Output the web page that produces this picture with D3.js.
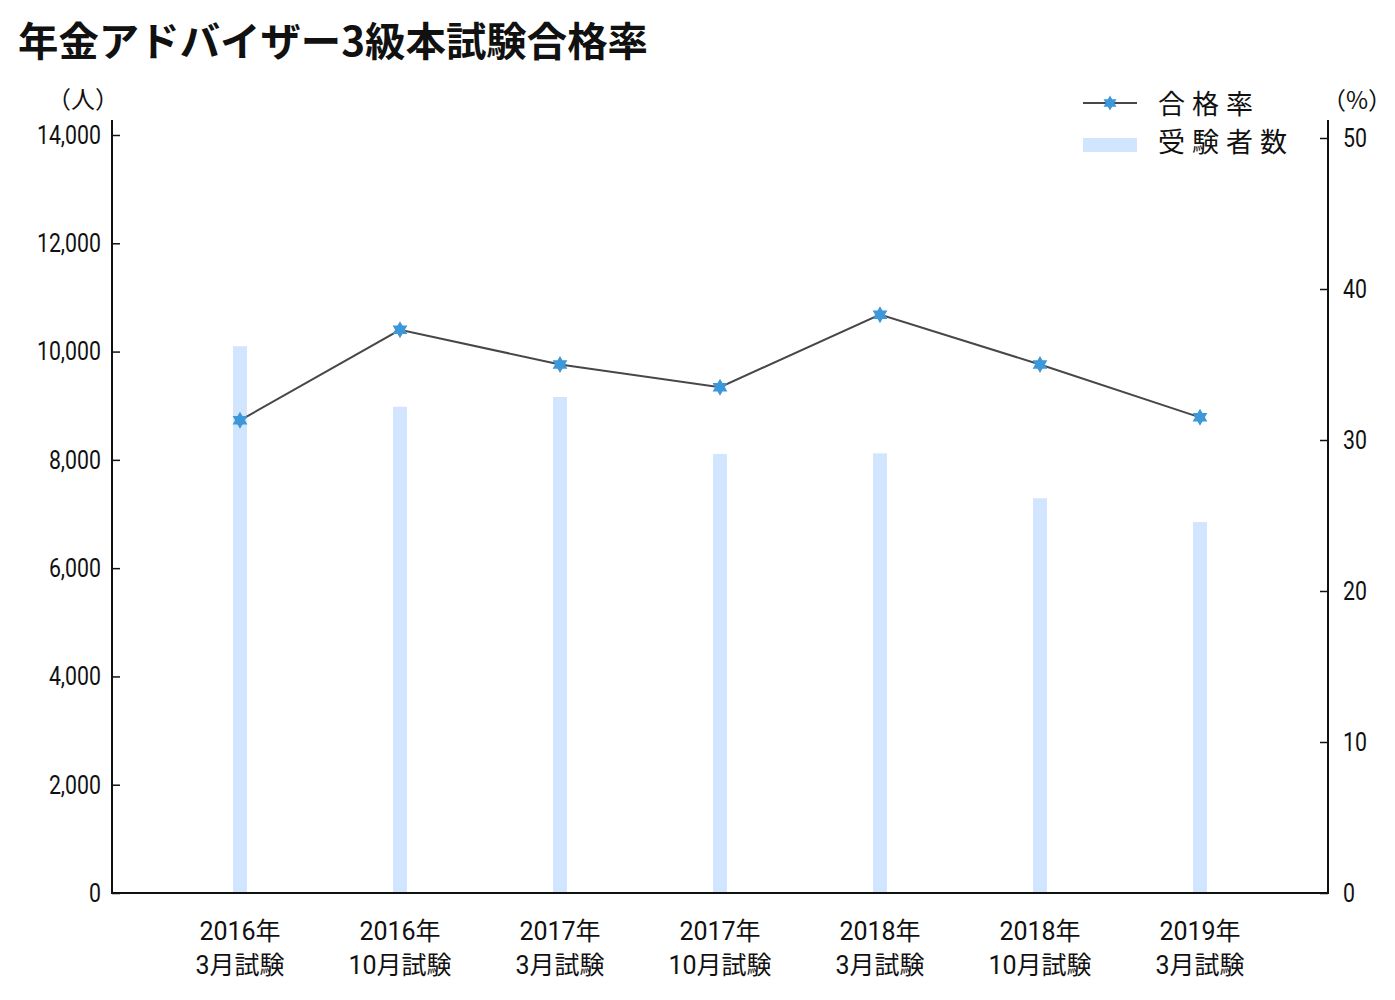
<!DOCTYPE html>
<html><head><meta charset="utf-8">
<script src="https://cdn.jsdelivr.net/npm/d3@7"></script>
<style>
body{margin:0;background:#fff;}
text{font-family:Roboto,"Noto Sans CJK JP",sans-serif;fill:#111;}
</style></head>
<body><svg id="c" width="1395" height="1000"></svg>
<script>
const categories = ["2016年\n3月試験","2016年\n10月試験","2017年\n3月試験","2017年\n10月試験","2018年\n3月試験","2018年\n10月試験","2019年\n3月試験"];
const examinees = [10100, 8980, 9160, 8110, 8120, 7290, 6850];
const passRate = [31.3, 37.3, 35.0, 33.5, 38.3, 35.0, 31.5];
const leftTicks = [0,2000,4000,6000,8000,10000,12000,14000];
const rightTicks = [0,10,20,30,40,50];

const svg = d3.select("#c");
const L = 112, R = 1328, B = 893;
const SX = 0.82;
const x = d3.scalePoint().domain(categories).range([L, R]).padding(0.8);
const yL = d3.scaleLinear().domain([0, 14000]).range([B, 135]);
const yR = d3.scaleLinear().domain([0, 50]).range([B, 138]);

svg.append("text").attr("x", 18).attr("y", 56).attr("font-size", 40).attr("font-weight", 700)
  .attr("textLength", 630).attr("lengthAdjust", "spacingAndGlyphs")
  .style("font-family", "'Noto Sans CJK JP',sans-serif").text("年金アドバイザー3級本試験合格率");

// bars
svg.append("g").selectAll("rect").data(examinees).join("rect")
  .attr("x", (d,i) => x(categories[i]) - 7).attr("width", 14)
  .attr("y", d => yL(d)).attr("height", d => B - yL(d)).attr("fill", "#d2e5fe");

function condense(sel){
  sel.each(function(){
    const t = d3.select(this);
    const xv = +t.attr("x") || 0;
    t.attr("x", xv / SX).attr("transform", `scale(${SX},1)`);
  });
}

// axes
const gl = svg.append("g").attr("transform", `translate(${L},0)`)
  .call(d3.axisLeft(yL).tickValues(leftTicks).tickFormat(d3.format(",")).tickSizeInner(-8).tickSizeOuter(0).tickPadding(11));
gl.select(".domain").remove();
gl.selectAll("text").attr("font-size", 26).style("font-family", "Roboto,sans-serif").attr("fill", "#111").call(condense);
gl.selectAll("line").attr("stroke", "#111").attr("stroke-width", 1.5);

const gr = svg.append("g").attr("transform", `translate(${R},0)`)
  .call(d3.axisRight(yR).tickValues(rightTicks).tickSizeInner(-8).tickSizeOuter(0).tickPadding(15));
gr.select(".domain").remove();
gr.selectAll("text").attr("font-size", 26).style("font-family", "Roboto,sans-serif").attr("fill", "#111").call(condense);
gr.selectAll("line").attr("stroke", "#111").attr("stroke-width", 1.5);

svg.append("line").attr("x1", L).attr("x2", L).attr("y1", 120).attr("y2", B+1).attr("stroke", "#111").attr("stroke-width", 2);
svg.append("line").attr("x1", R).attr("x2", R).attr("y1", 120).attr("y2", B+1).attr("stroke", "#111").attr("stroke-width", 2);
svg.append("line").attr("x1", L-1).attr("x2", R+1).attr("y1", B).attr("y2", B).attr("stroke", "#111").attr("stroke-width", 2);

// x labels
const xl = svg.append("g").selectAll("text").data(categories).join("text")
  .attr("text-anchor", "middle").attr("font-size", 25)
  .attr("x", d => x(d)).attr("y", 940);
xl.each(function(d){
  const parts = d.split("\n");
  d3.select(this).append("tspan").attr("x", x(d)).attr("dy", 0).text(parts[0]);
  d3.select(this).append("tspan").attr("x", x(d)).attr("dy", 34).text(parts[1]);
});

// unit labels
svg.append("text").attr("x", 47).attr("y", 108).attr("font-size", 24).style("font-family","'Noto Sans CJK JP',sans-serif").text("（人）");
svg.append("text").attr("x", 1322).attr("y", 109).attr("font-size", 24).style("font-family","'Noto Sans CJK JP',sans-serif").text("（%）");

// line
const line = d3.line().x((d,i) => x(categories[i])).y(d => yR(d));
svg.append("path").datum(passRate).attr("d", line).attr("fill", "none").attr("stroke", "#474747").attr("stroke-width", 2);

function hexagram(r){
  const tri = a => d3.range(3).map(k => {
    const t = a + k*2*Math.PI/3; return [r*Math.sin(t), -r*Math.cos(t)];
  });
  const p = t => "M" + t.map(q => q.join(",")).join("L") + "Z";
  return p(tri(0)) + p(tri(Math.PI));
}
svg.append("g").selectAll("path").data(passRate).join("path")
  .attr("transform", (d,i) => `translate(${x(categories[i])},${yR(d)})`)
  .attr("d", hexagram(8.5)).attr("fill", "#3d97d8");

// legend
svg.append("line").attr("x1", 1083).attr("x2", 1137).attr("y1", 103).attr("y2", 103).attr("stroke", "#474747").attr("stroke-width", 2);
svg.append("path").attr("transform", "translate(1110,103)").attr("d", hexagram(7.5)).attr("fill", "#3d97d8");
svg.append("rect").attr("x", 1083).attr("y", 138).attr("width", 54).attr("height", 14).attr("fill", "#d2e5fe");
svg.append("text").attr("x", 1158).attr("y", 114).attr("font-size", 27).attr("letter-spacing", 7).style("font-family","'Noto Sans CJK JP',sans-serif").text("合格率");
svg.append("text").attr("x", 1158).attr("y", 152).attr("font-size", 27).attr("letter-spacing", 7).style("font-family","'Noto Sans CJK JP',sans-serif").text("受験者数");
</script></body></html>
